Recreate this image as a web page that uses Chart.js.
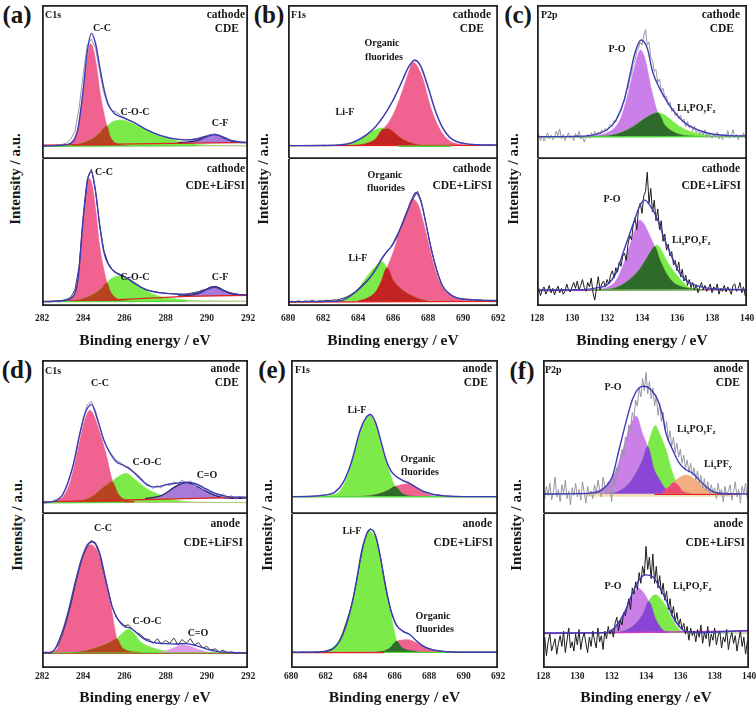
<!DOCTYPE html>
<html><head><meta charset="utf-8">
<script src="https://cdn.jsdelivr.net/npm/chart.js@4.4.1/dist/chart.umd.min.js"></script>
<style>
html,body{margin:0;padding:0;background:#fff;}
body{position:relative;width:756px;height:709px;overflow:hidden;font-family:'Liberation Serif','Times New Roman',serif;color:#161616;}
canvas{position:absolute;}
.lb{position:absolute;white-space:nowrap;font-weight:bold;line-height:1;}
.lb sub{font-size:62%;vertical-align:-0.3em;line-height:0;}
</style></head><body>
<script>
// ---------- axis ranges and tick labels ----------
const XR_C1S = [282, 292], XR_F1S = [680, 692], XR_P2P = [128, 140];
const TICKS_C1S = [282, 284, 286, 288, 290, 292];
const TICKS_F1S = [680, 682, 684, 686, 688, 690, 692];
const TICKS_P2P = [128, 130, 132, 134, 136, 138, 140];
const grid = (start, step, vals) => vals.map((v, i) => [Math.round((start + i * step) * 1000) / 1000, v]);

// ---------- (a) C1s cathode, CDE ----------
const aT_cc  = [[282,8.5],[283,8.8],[283.3,9.8],[283.5,12],[283.7,18],[283.9,33],[284.1,56],[284.25,70],[284.35,75],[284.5,71],[284.65,60],[284.82,43],[285.0,30],[285.15,21.4],[285.3,15],[285.5,11],[285.8,9.2],[286.2,8.6],[292,8.5]];
const aT_coc = [[282,8.5],[283.4,8.7],[284.0,10.5],[284.5,13.5],[284.85,17.5],[285.15,21.4],[285.45,24.3],[285.75,25.3],[286.05,24.8],[286.4,23],[286.8,20.5],[287.2,18],[287.6,15.6],[288.0,13.8],[288.5,12],[289.0,10.6],[289.5,9.6],[290.0,9],[292,8.6]];
const aT_ov  = [[283.4,8.7],[284.0,10.5],[284.5,13.5],[284.85,17.5],[285.15,21.4],[285.3,15],[285.5,11],[285.8,9.2],[286.2,8.6]];
const aT_cf  = [[288.6,10.6],[289.2,11.3],[289.6,12.3],[289.9,14],[290.15,15.5],[290.35,16],[290.6,15.3],[290.85,13.5],[291.2,11.6],[291.6,10.8],[292,10.6]];
const aT_env = [[282,8.4],[282.5,8.5],[283,8.9],[283.5,11.3],[283.75,20],[284.0,45],[284.2,70],[284.4,81.6],[284.6,75],[284.8,60],[285.0,46],[285.2,36],[285.5,29.7],[285.8,27.5],[286.0,26.4],[286.5,23.5],[287.0,19.5],[287.5,16.5],[288.0,14.2],[288.5,12.9],[289.0,12.4],[289.5,13],[290.0,14.8],[290.4,15.8],[290.8,14.2],[291.2,12],[291.6,11],[292,10.7]];
const aT_red = [[282,9],[292,10.8]];
const aT_grn = [[282,8.2],[289.5,8.6]];
const aT_data = grid(282, 0.2, [
  8.2,8.6,8.3,8.7,8.9, 9.5,10.5,13,18,33, 55,74,78,72,57, 43,35,31.5,30.5,28.5,
  27,25.6,24.3,22.8,21, 19.6,18.3,17,16,15.2, 14.6,13.8,13.2,12.9,12.5, 12.3,12.6,13,13.6,14.5,
  15,15.8,16.2,15.5,14.4, 13,12,11.5,11,10.9, 10.8]);

// ---------- (a) C1s cathode, CDE+LiFSI ----------
const aB_cc  = [[282,3.2],[283,3.6],[283.4,5],[283.6,9],[283.8,25],[284.0,57],[284.15,80],[284.3,86.8],[284.45,81],[284.6,66],[284.8,41],[285.0,25],[285.15,15.9],[285.3,10.5],[285.5,6.5],[285.8,4],[286.2,3.3],[292,3.2]];
const aB_coc = [[282,3.2],[283.5,3.5],[284.0,5],[284.5,8],[284.9,12],[285.15,15.9],[285.4,19],[285.7,20.4],[286.0,20],[286.3,18],[286.6,15],[287.0,11],[287.4,8],[287.8,6.2],[288.2,5.2],[288.8,4.2],[289.5,3.6],[292,3.3]];
const aB_ov  = [[283.5,3.5],[284.0,5],[284.5,8],[284.9,12],[285.15,15.9],[285.3,10.5],[285.5,6.5],[285.8,4],[286.2,3.3]];
const aB_cf  = [[288.6,6.8],[289.2,7.3],[289.6,8.6],[289.9,10.6],[290.15,12.6],[290.35,13.2],[290.6,12.4],[290.85,10.4],[291.2,8.2],[291.6,7.4],[292,7.2]];
const aB_env = [[282,2.9],[282.5,3.1],[283,3.6],[283.5,6.3],[283.75,18],[284.0,60],[284.2,85],[284.4,91.4],[284.6,78],[284.8,55],[285.0,37],[285.2,29],[285.5,23.4],[285.8,21],[286.0,20],[286.5,15.4],[287.0,11.3],[287.5,9.5],[288.0,8.6],[288.5,8.2],[289.0,7.9],[289.5,8.8],[290.0,11.3],[290.4,12.7],[290.8,10.4],[291.2,8.6],[291.6,7.7],[292,7.5]];
const aB_red = [[282,3],[286,4.5],[289,6.5],[292,7.3]];
const aB_grn = [[282,3],[289,3.2]];
const aB_data = grid(282, 0.2, [
  2.8,3.2,2.9,3.3,3.4, 3.8,4.6,6,11,27, 60,86,93,78,55, 38,29.5,25,22.8,21.5,
  20.3,18.5,16.5,14.8,12.8, 11.6,10.6,9.8,9.3,9, 8.7,8.5,8.2,8.1,8, 8.1,8.6,9.2,9.8,10.8,
  11.6,12.6,13.4,12.4,10.8, 9.6,8.8,8.2,7.8,7.6, 7.6]);

// ---------- (b) F1s cathode, CDE ----------
const bT_org = [[680,8.7],[683.5,8.8],[684.0,9.1],[684.5,10.2],[685.0,13],[685.45,19.5],[685.8,24.5],[686.14,32],[686.5,43],[686.8,53],[687.15,62.8],[687.5,58],[687.8,48.5],[688.06,37],[688.4,26],[688.8,17],[689.2,12],[689.6,10],[690.2,9],[692,8.7]];
const bT_lif = [[680,8.7],[682.8,8.8],[683.2,9.3],[683.6,10.5],[684.0,12.5],[684.4,15],[684.8,17.8],[685.1,19.5],[685.4,20.2],[685.7,19.6],[686.0,17.8],[686.4,14],[686.8,11.3],[687.2,9.8],[687.6,9],[692,8.7]];
const bT_ov  = [[683.5,8.8],[684.0,9.1],[684.5,10.2],[685.0,13],[685.45,19.5],[685.7,19.6],[686.0,17.8],[686.4,14],[686.8,11.3],[687.2,9.8],[687.6,9]];
const bT_env = [[680,8.7],[682,8.8],[683,9.2],[683.5,10],[684,12.3],[684.5,15.8],[685,21],[685.5,28.5],[686.0,38],[686.5,50],[686.9,60],[687.25,64.3],[687.6,60],[688.0,47],[688.4,32],[688.8,21],[689.2,14.5],[689.6,11.5],[690.2,9.8],[691,9.2],[692,9]];
const bT_red = [[680,8.7],[692,8.9]];
const bT_grn = [[686.3,8.3],[689.3,8.3]];
const bT_data = grid(680, 0.2, [
  8.6,8.9,8.5,8.8,8.6, 8.9,8.7,8.5,8.9,8.7, 9.0,8.8,9.1,9.0,9.3, 9.4,9.7,10.2,10.6,11.6,
  12.5,13.8,15.3,16.8,18.8, 21,23.5,26.5,30.5,34.5, 38.5,43,48,53,58, 62,64,63,59.5,53,
  46,39,32,26,21, 17.5,15,13,11.8,10.8, 10.2,9.9,9.5,9.6,9.3, 9.4,9.1,9.3,9.0,9.1, 9.0]);

// ---------- (b) F1s cathode, CDE+LiFSI ----------
const bB_org = [[680,2.9],[684,3.5],[684.5,5.2],[685.0,9.5],[685.3,16],[685.66,26],[686.05,37.9],[686.5,56],[686.8,65],[687.1,72.8],[687.45,68.5],[687.75,56],[688.0,44],[688.3,29],[688.6,18],[689.0,10],[689.5,5.7],[690,4.1],[691,3.2],[692,2.9]];
const bB_lif = [[680,2.9],[682.5,3.2],[683.0,4],[683.5,6.5],[684.0,11],[684.3,16.5],[684.7,23],[685.0,27],[685.37,30.2],[685.66,26],[686.0,17.7],[686.5,11.3],[687.0,7.5],[687.5,4.8],[688,3.4],[692,2.9]];
const bB_ov  = [[684,3.5],[684.5,5.2],[685.0,9.5],[685.3,16],[685.66,26],[686.0,17.7],[686.5,11.3],[687.0,7.5],[687.5,4.8],[688,3.4]];
const bB_env = [[680,2.9],[682,3.1],[683,3.6],[683.5,6.3],[684.0,10.9],[684.5,16.6],[685.0,24.5],[685.3,31.3],[685.6,36.3],[685.9,40.4],[686.2,47.2],[686.5,55],[686.8,64],[687.0,70],[687.3,77],[687.6,71],[687.9,55],[688.2,38],[688.5,24.5],[688.8,14.3],[689.2,8.6],[689.6,5.7],[690,4.8],[691,4],[692,3.6]];
const bB_red = [[680,2.7],[692,3.2]];
const bB_data = grid(680, 0.2, [
  2.5,3.3,2.8,3.5,2.9, 3.4,3.1,3.8,3.0,3.5, 3.3,3.9,3.6,4.2,4.0, 4.8,5.5,6.5,7.8,9.5,
  11.5,14,16,18.5,21.5, 25,28.5,32.5,36,39, 42,46,52,58,64, 70,74,78,72,61,
  49,38,28,20.5,14.5, 10.5,8.2,6.8,5.8,5.2, 4.6,4.5,4.0,4.3,3.8, 4.1,3.7,3.9,3.5,3.8, 3.6]);

// ---------- (c) P2p cathode, CDE ----------
const cT_po  = [[128,14.5],[130.5,14.6],[131,14.8],[131.5,15.5],[132,17],[132.5,21],[132.8,27],[133.1,38],[133.4,52],[133.7,65],[133.9,70.8],[134.2,64],[134.5,47],[134.9,30],[135.3,22],[135.8,17.5],[136.3,15.5],[137,14.8],[140,14.5]];
const cT_lix = [[128,14.5],[131,14.5],[131.5,14.7],[132,15],[132.5,16],[133,18],[133.5,21],[134,25],[134.5,28.5],[134.9,30],[135.3,28.5],[135.7,25],[136.1,21.5],[136.5,19],[137,17],[137.5,15.8],[138,15],[138.5,14.7],[140,14.5]];
const cT_ov  = [[131,14.5],[131.5,14.7],[132,15],[132.5,16],[133,18],[133.5,21],[134,25],[134.5,28.5],[134.9,30],[135.3,22],[135.8,17.5],[136.3,15.5],[137,14.8]];
const cT_env = [[128,14.5],[130,14.7],[131,15.2],[131.5,16.5],[132,19],[132.5,25],[133.0,39],[133.3,54],[133.6,69],[133.95,77.3],[134.3,72],[134.6,57],[135.0,46],[135.5,36],[136.0,28.5],[136.5,23],[137,19.9],[137.5,17.7],[138,16.2],[139,15.2],[140,15]];
const cT_grn = [[128,14.3],[140,14.6]];
const cT_data = grid(128, 0.1, [
  13,16,12,15,11.5,14,17,13,15.5,12.5,
  14,18,15,19.5,13,16,12,14.5,17,13.5,
  15,12,16.5,14,18,13,15,11,14.5,16,
  13.5,17,15,18,14.5,17.5,16,19,17.5,20,
  18.5,21,22.5,21,25,24,28,30,31,36,
  38,44,46,52,55,62,64,70,72,76,
  74,80,84,74,76,66,64,57,58,50,
  52,44,46,40,41,35,37,31,33,28,
  30,26,28.5,24,26,21,24.5,20,22,18,
  21.5,17,19.5,16,18,15.5,19,14,17,15,
  13.5,16.5,14,17.5,13,15,12.5,16,14,18.5,
  13.5,15,19,14,16,12.5,15.5,14,17,13.5,
  15]);

// ---------- (c) P2p cathode, CDE+LiFSI ----------
const cB_po  = [[128,10.9],[131,11],[131.6,11.5],[132.0,12.8],[132.5,17],[132.9,27],[133.3,41],[133.6,52],[133.86,58.5],[134.1,56],[134.4,49],[134.72,40.4],[135.0,32],[135.4,22],[135.8,16],[136.3,13],[137,11.5],[140,10.9]];
const cB_lix = [[128,10.9],[131.5,11],[132.2,11.5],[132.8,14],[133.3,18],[133.8,24],[134.2,31],[134.5,37],[134.85,41.5],[135.1,38],[135.5,29],[136.06,20],[136.64,13],[137.2,11.4],[138,11],[140,10.9]];
const cB_ov  = [[131.5,11],[132.2,11.5],[132.8,14],[133.3,18],[133.8,24],[134.2,31],[134.5,37],[134.72,40.4],[135.0,32],[135.4,22],[135.8,16],[136.3,13],[137,11.5]];
const cB_env = [[128,10.9],[130,11],[131,11.5],[131.5,12.5],[132,14.3],[132.5,22],[133,39],[133.5,56],[133.9,68.7],[134.15,72],[134.5,67.6],[134.9,58.5],[135.3,44.9],[135.7,33.6],[136.1,23.4],[136.5,17.7],[137,14.3],[137.5,12.7],[138,11.8],[139,11.3],[140,11.1]];
const cB_mag = [[128,10.5],[140,11.2]];
const cB_grn = [[131,10.8],[137.5,11]];
const cB_data = grid(128, 0.1, [
  9,12,7,11,13,8,10.5,14,9,12,
  7.5,11,13.5,9,12,8,10,15,11,9.5,
  13,16,12,17,11,14,18,12.5,10,16,
  13,19,9,4,12,20,11,15,17,13,
  18,15,21,24,19,26,23,30,27,34,
  36,31,42,48,45,55,60,52,66,70,
  63,75,78,91,70,80,64,72,58,66,
  52,58,44,49,38,42,34,37,28,31,
  24,30,20,25,17,21,14,18,12.5,16,
  11,14.5,9,13,16,11,14,10,12,15,
  9,13,11,15,8,12,10,14,9.5,13,
  11,8,14,15,10,12,16,9,13,7,
  11]);

// ---------- (d) C1s anode, CDE ----------
const dT_cc  = [[282,7.4],[282.4,7.8],[282.7,8.5],[283.0,11],[283.35,20],[283.6,33],[283.84,48],[284.1,62],[284.33,67.4],[284.55,63],[284.81,52.6],[285.14,37.4],[285.3,27.5],[285.45,20.5],[285.7,13],[286.0,9.5],[286.5,8],[292,7.4]];
const dT_coc = [[282,7.4],[283.3,7.6],[284.0,9],[284.5,11.8],[284.81,15.6],[285.1,18.5],[285.38,21],[285.7,24.2],[286.08,26.5],[286.5,22.5],[286.93,17.8],[287.3,14.8],[287.58,13.2],[287.9,11.3],[288.3,9.5],[288.8,8.3],[289.5,7.7],[292,7.4]];
const dT_ov  = [[283.3,7.6],[284.0,9],[284.5,11.8],[284.81,15.6],[285.1,18.5],[285.38,21],[285.45,20.5],[285.7,13],[286.0,9.5],[286.5,8]];
const dT_co  = [[287.0,10],[287.5,11],[287.74,11.7],[288.0,13.5],[288.23,15.6],[288.6,18.8],[289.04,20.4],[289.4,19],[289.7,16.7],[290.0,14.5],[290.34,12.4],[290.7,11],[291.0,10.4],[291.5,10.2],[292,10.2]];
const dT_env = [[282,7.4],[282.5,8],[283,12.5],[283.5,31],[283.8,50],[284.1,65.6],[284.4,71],[284.7,61],[285,48],[285.3,39.6],[285.6,34],[285.9,32],[286.2,29.8],[286.5,26.5],[286.8,22.6],[287.1,18.9],[287.4,17.6],[287.7,17.8],[288,18.9],[288.5,20],[289,20.6],[289.5,19.6],[290,16],[290.5,13],[291,11.3],[291.5,10.9],[292,10.7]];
const dT_red = [[282,7.8],[292,11]];
const dT_grn = [[282,7.2],[286,7.6]];
const dT_data = grid(282, 0.2, [
  7,8.5,7.5,9,10, 12.5,18,26,36,50, 62,71,73,67,57, 48,42,38.5,35,33.5,
  31,30.5,28,26,23.5, 20,19,16.5,18.5,17, 19.5,18.5,21,19.5,22, 20,21.5,18.5,19,16,
  16.5,14,13.5,12,13, 10.5,12,9.5,11.5,10, 11]);

// ---------- (d) C1s anode, CDE+LiFSI ----------
const dB_cc  = [[282,9.7],[282.4,10.5],[282.7,12],[283.02,22.7],[283.35,40],[283.67,57],[284.0,72],[284.2,78.5],[284.36,80],[284.55,78.5],[284.81,72],[285.14,53],[285.38,37.8],[285.5,28],[285.63,19],[285.87,13.5],[286.2,11],[286.8,10],[292,9.7]];
const dB_coc = [[282,9.7],[283.5,10.1],[284.0,10.8],[284.81,14],[285.3,16.5],[285.63,19],[285.9,22.5],[286.2,25.3],[286.5,22],[286.76,17.3],[287.1,14.5],[287.41,13],[287.8,11.5],[288.07,10.8],[288.6,10.1],[292,9.7]];
const dB_ov  = [[283.5,10.1],[284.0,10.8],[284.81,14],[285.3,16.5],[285.63,19],[285.87,13.5],[286.2,11],[286.8,10]];
const dB_co  = [[287.6,10],[288.0,11],[288.4,13.2],[288.8,15],[289.2,14.2],[289.6,12],[290.0,10.5],[290.4,9.9]];
const dB_env = [[282,9.7],[282.5,10.5],[283,24],[283.3,38],[283.6,55],[283.9,70],[284.2,80],[284.5,82],[284.8,74.5],[285.1,57],[285.4,40],[285.7,31.3],[286.0,27],[286.3,25.9],[286.6,22.7],[286.9,19.4],[287.2,17.3],[287.6,16.2],[288,15.8],[288.5,15.6],[289,15.8],[289.5,14.5],[290,12.3],[290.5,10.8],[291,10.2],[292,9.7]];
const dB_red = [[282,9.4],[292,9.4]];
const dB_grn = [[282,9.8],[292,9.8]];
const dB_data = grid(282, 0.2, [
  9,10.5,9.5,12,15, 22,31,41,53,64, 73,79,83,80,74, 62,51,40,33,30,
  27.5,28,25,23,21.5, 19,18.5,16,19,15.5, 18,16,19.5,15,18.5, 16,19,15,16.5,13,
  14,11.5,12.5,10.5,11.5, 9.8,10.5,9.5,10.2,9.6, 10]);

// ---------- (e) F1s anode, CDE ----------
const eT_lif = [[680,11.3],[681.5,11.5],[682.2,12],[682.8,14.6],[683.19,22],[683.58,35],[683.97,52.6],[684.25,60.5],[684.52,63.9],[684.8,60],[685.05,52.6],[685.34,39.6],[685.74,26.5],[686.03,17.8],[686.4,13.8],[686.7,12],[687.2,11.5],[692,11.3]];
const eT_org = [[680,11.3],[684.2,11.5],[684.76,12.2],[685.34,13.9],[685.7,15.8],[686.03,17.8],[686.4,19],[686.81,19.6],[687.3,16.7],[687.9,13],[688.5,11.5],[692,11.3]];
const eT_ov  = [[684.2,11.5],[684.76,12.2],[685.34,13.9],[685.7,15.8],[686.03,17.8],[686.4,13.8],[686.7,12],[687.2,11.5]];
const eT_env = [[680,11.3],[681,11.4],[682,12.4],[682.5,13.9],[683,20],[683.5,33.5],[684,54],[684.3,61.8],[684.6,64.6],[684.9,59.5],[685.2,48],[685.5,35.5],[685.8,27.8],[686.1,24.3],[686.5,21.7],[686.9,19.8],[687.3,17],[687.7,14.6],[688.2,12.8],[689,11.7],[690,11.3],[692,11.3]];
const eT_grn = [[680,11.2],[692,11.2]];
const eT_data = grid(680, 0.2, [
  11.2,11.5,11.2,11.4,11.3, 11.6,11.4,11.7,11.8,12.1, 12.4,12.8,13.4,14.5,16.3, 19.8,24.5,30.5,37.5,45.5,
  53.5,59.5,63,64.5,61.5, 55.5,47.5,39,32,28, 25.5,23.6,22.3,21.3,20.4, 19.3,17.8,16.3,15,14.1,
  13.4,12.9,12.5,12.1,11.9, 11.7,11.6,11.4,11.5,11.3, 11.4,11.3,11.2,11.4,11.3, 11.2,11.3,11.3,11.2,11.3, 11.3]);

// ---------- (e) F1s anode, CDE+LiFSI ----------
const eB_lif = [[680,10.2],[681.5,10.4],[682.2,11.9],[682.8,18.4],[683.19,29.2],[683.58,44.3],[683.88,61.6],[684.17,78.8],[684.4,87],[684.56,89.2],[684.75,87],[684.95,83],[685.25,66],[685.64,44.3],[685.93,27],[686.13,17.3],[686.4,13.5],[686.8,11.5],[687.3,10.8],[692,10.2]];
const eB_org = [[680,10.2],[685,10.4],[685.34,10.8],[685.74,13],[686.13,17.3],[686.45,18.2],[686.81,18.4],[687.15,17],[687.5,15.1],[688.1,11.9],[688.6,10.4],[692,10.2]];
const eB_ov  = [[685,10.4],[685.34,10.8],[685.74,13],[686.13,17.3],[686.4,13.5],[686.8,11.5],[687.3,10.8]];
const eB_env = [[680,10.2],[681,10.2],[682,10.8],[682.5,13],[683,21.6],[683.5,40],[683.8,57],[684.1,76],[684.4,87.5],[684.6,90],[684.9,86],[685.2,71],[685.5,52],[685.8,37],[686.1,28],[686.5,23.8],[686.9,21.6],[687.3,17.3],[687.7,14],[688.2,11.9],[689,10.6],[690,10.2],[692,10.2]];
const eB_red = [[680,10],[685.4,10]];
const eB_grn = [[685.4,10.2],[692,10.2]];
const eB_data = grid(680, 0.2, [
  10.1,10.3,10.0,10.4,10.2, 10.3,10.1,10.5,10.4,10.7, 11.0,11.6,12.4,14.2,17.3, 22.5,29.5,36.5,45,56,
  69,80,87.5,90.5,89, 82,71,58,46,37, 30.5,26.5,24.5,23.3,22.3, 20.8,18.6,16.4,14.6,13.3,
  12.4,11.8,11.3,11.0,10.8, 10.6,10.5,10.4,10.3,10.3, 10.2,10.3,10.2,10.2,10.3, 10.2,10.2,10.3,10.2,10.2, 10.2]);

// ---------- (f) P2p anode, CDE ----------
const fT_po   = [[128,13],[130,13.1],[130.5,13.4],[131.26,15.6],[131.84,20],[132.33,30.9],[132.82,48],[133.1,58],[133.44,63.5],[133.8,52],[134.09,43.9],[134.48,28.7],[134.97,17.8],[135.55,13.9],[136.2,13.2],[140,13]];
const fT_lix  = [[128,13],[131.5,13.1],[132,13.4],[132.62,16],[133.2,22.6],[133.8,35.2],[134.09,43.9],[134.3,52],[134.54,57.4],[134.8,52],[135.16,41.7],[135.55,26.5],[135.85,19],[136.14,14.6],[136.6,13.3],[140,13]];
const fT_ov   = [[131.5,13.1],[132,13.4],[132.62,16],[133.2,22.6],[133.8,35.2],[134.09,43.9],[134.48,28.7],[134.77,22.6],[135.16,16],[135.55,13.4],[136.2,13.1]];
const fT_lipf = [[133.5,13],[134.3,13.3],[134.97,14.6],[135.36,17.8],[135.75,22],[136.33,25.4],[136.92,22],[137.5,16.7],[138.1,13.4],[138.8,13]];
const fT_ov2  = [[134.97,14.6],[135.36,17.8],[135.6,20.5],[135.85,19],[136.14,14.6],[136.6,13.3]];
const fT_env  = [[128,13],[130,13.2],[131.0,13.9],[131.26,14.6],[131.65,17.8],[132.04,24.3],[132.43,41.7],[132.82,59],[133.21,74.3],[133.6,82],[133.89,83],[134.28,80.9],[134.67,74.3],[134.97,63.5],[135.16,52.6],[135.55,41.7],[135.94,33],[136.33,28.7],[136.72,26.5],[137.1,22],[137.5,17.8],[137.9,14.6],[138.28,13.5],[140,13]];
const fT_beige = [[130.5,12.2],[139,12.2]];
const fT_red  = [[134.5,12.8],[139.5,12.8]];
const fT_data = grid(128, 0.1, [
  15,10,18,12,20,9,14,24,11,16,
  8,19,13,22,10,15,6,17,12,20,
  11,16,9,21,14,7,18,12,15,10,
  19,13,22,16,11,24,18,14,21,17,
  8,25,19,30,27,36,42,38,50,47,
  58,55,66,62,74,70,82,76,88,80,
  92,78,86,75,82,70,77,64,72,60,
  66,55,60,48,54,44,50,40,46,37,
  42,33,38,30,35,27,33,25,30,22,
  28,20,25,17,23,15,21,12,19,14,
  17,10,20,13,16,8,18,12,15,19,
  9,14,21,11,16,7,18,13,20,10,
  14]);

// ---------- (f) P2p anode, CDE+LiFSI ----------
const fB_po  = [[128,22.7],[131,22.8],[131.65,23],[132.23,26.6],[132.62,33.5],[133.01,42],[133.3,48.5],[133.56,51.8],[133.85,49],[134.15,43.2],[134.58,31.3],[134.97,24.8],[135.36,23],[140,22.7]];
const fB_lix = [[128,22.7],[132.04,22.7],[132.62,23.8],[133.21,27],[133.6,31.3],[133.9,37],[134.15,43.2],[134.35,46.5],[134.58,47.5],[134.85,45],[135.16,40],[135.55,31.3],[135.94,24.8],[136.33,23],[140,22.7]];
const fB_ov  = [[132.04,22.7],[132.62,23.8],[133.21,27],[133.6,31.3],[133.9,37],[134.15,43.2],[134.58,31.3],[134.97,24.8],[135.36,23]];
const fB_env = [[128,22.7],[131.65,23],[132.23,27],[132.82,37.8],[133.21,48.6],[133.6,57.2],[133.99,60.5],[134.38,59.4],[134.77,52.9],[135.16,44.3],[135.55,33.5],[135.94,27],[136.33,23.8],[137.1,23.1],[140,24.4]];
const fB_mag = [[128,22.4],[140,24]];
const fB_data = grid(128, 0.1, [
  12,20,8,17,22,11,15,19,9,16,
  21,14,24,10,18,26,13,17,11,22,
  15,25,12,19,23,16,10,20,14,24,
  18,13,26,17,21,12,24,19,27,22,
  25,20,29,33,24,31,28,36,34,40,
  45,38,52,48,56,51,62,55,66,60,
  79,64,72,58,74,55,66,52,60,48,
  55,44,50,38,45,34,40,30,36,27,
  32,25,29,22,27,18,26,21,24,17,
  25,20,28,16,23,19,27,14,22,18,
  26,15,21,24,13,20,17,25,12,19,
  23,16,21,11,18,24,14,20,9,17,
  21]);

// ---------- styles ----------
const COL = {pink:'#F0628F', green:'#7CEB4A', brown:'#B4451F', red:'#C42323', violet:'#CB7FE8',
  dkgreen:'#2E6B2B', purple:'#8A45D6', cpurple:'#A77ADA', lilac:'#DE9CE8', orange:'#F2AE7E',
  rose:'#EC4A72', env:'#3C3CB6', gray:'#9797A3', redline:'#E02222', greenline:'#55D43A',
  magenta:'#D23CC6', beige:'#F3DDB5', navy:'#22226E', black:'#1c1c1c', dkgray:'#3a3a3a'};

// subplot composition: [data, colour, fill base, outline]
const SUB = {
  aT:{peaks:[[aT_cc,'pink',8.5],[aT_coc,'green',8.5],[aT_cf,'cpurple',10.3,'navy']], ov:[[aT_ov,'brown',8.5]], base:[[aT_red,'redline',1.3],[aT_grn,'greenline',1.2]], env:aT_env, data:aT_data, dc:'gray'},
  aB:{peaks:[[aB_cc,'pink',3.2],[aB_coc,'green',3.2],[aB_cf,'cpurple',6.8,'navy']], ov:[[aB_ov,'brown',3.2]], base:[[aB_red,'redline',1.3],[aB_grn,'greenline',1.2]], env:aB_env, data:aB_data, dc:'dkgray'},
  bT:{peaks:[[bT_org,'pink',8.7],[bT_lif,'green',8.7]], ov:[[bT_ov,'red',8.7]], base:[[bT_red,'redline',1.3],[bT_grn,'greenline',1.5]], env:bT_env, data:bT_data, dc:'gray'},
  bB:{peaks:[[bB_org,'pink',2.9],[bB_lif,'green',2.9]], ov:[[bB_ov,'red',2.9]], base:[[bB_red,'redline',1.3]], env:bB_env, data:bB_data, dc:'dkgray'},
  cT:{peaks:[[cT_po,'violet',14.5],[cT_lix,'green',14.5]], ov:[[cT_ov,'dkgreen',14.5]], base:[[cT_grn,'greenline',1.5]], env:cT_env, data:cT_data, dc:'gray'},
  cB:{peaks:[[cB_po,'violet',10.9],[cB_lix,'green',10.9]], ov:[[cB_ov,'dkgreen',10.9]], base:[[cB_mag,'magenta',1.3],[cB_grn,'greenline',1.2]], env:cB_env, data:cB_data, dc:'black'},
  dT:{peaks:[[dT_cc,'pink',7.4],[dT_coc,'green',7.4],[dT_co,'cpurple',10,'navy']], ov:[[dT_ov,'brown',7.4]], base:[[dT_red,'redline',1.3],[dT_grn,'greenline',1.2]], env:dT_env, data:dT_data, dc:'gray'},
  dB:{peaks:[[dB_cc,'pink',9.7],[dB_coc,'green',9.7],[dB_co,'lilac',9.7]], ov:[[dB_ov,'brown',9.7]], base:[[dB_red,'redline',1.2],[dB_grn,'greenline',1]], env:dB_env, data:dB_data, dc:'dkgray'},
  eT:{peaks:[[eT_lif,'green',11.3],[eT_org,'pink',11.3]], ov:[[eT_ov,'dkgreen',11.3]], base:[[eT_grn,'greenline',1.3]], env:eT_env, data:eT_data, dc:'gray'},
  eB:{peaks:[[eB_lif,'green',10.2],[eB_org,'pink',10.2]], ov:[[eB_ov,'dkgreen',10.2]], base:[[eB_red,'redline',1.3],[eB_grn,'greenline',1.3]], env:eB_env, data:eB_data, dc:'dkgray'},
  fT:{peaks:[[fT_po,'violet',13],[fT_lix,'green',13],[fT_lipf,'orange',13]], ov:[[fT_ov,'purple',13],[fT_ov2,'rose',13]], base:[[fT_beige,'beige',3],[fT_red,'redline',1.2]], env:fT_env, data:fT_data, dc:'gray'},
  fB:{peaks:[[fB_po,'violet',22.7],[fB_lix,'green',22.7]], ov:[[fB_ov,'purple',22.7]], base:[[fB_mag,'magenta',1.6]], env:fB_env, data:fB_data, dc:'black'}
};

const PANELS = [
  {k:'a', L:42,  R:248, T:5,   M:159, B:306, axisH:46, pad:7, xr:XR_C1S, ticks:TICKS_C1S},
  {k:'b', L:288, R:498, T:5,   M:159, B:306, axisH:46, pad:7, xr:XR_F1S, ticks:TICKS_F1S},
  {k:'c', L:537, R:747, T:5,   M:159, B:306, axisH:46, pad:7, xr:XR_P2P, ticks:TICKS_P2P},
  {k:'d', L:42,  R:248, T:360, M:514, B:668, axisH:41, pad:3, xr:XR_C1S, ticks:TICKS_C1S},
  {k:'e', L:291, R:498, T:360, M:514, B:668, axisH:41, pad:3, xr:XR_F1S, ticks:TICKS_F1S},
  {k:'f', L:543, R:749, T:360, M:514, B:668, axisH:41, pad:3, xr:XR_P2P, ticks:TICKS_P2P}
];

const FONT = "'Liberation Serif','Times New Roman',serif";
const xy = arr => arr.map(p => ({x:p[0], y:p[1]}));

function datasets(s) {
  const out = [];
  s.peaks.forEach((p, i) => out.push({data:xy(p[0]), backgroundColor:COL[p[1]], borderColor:p[3] ? COL[p[3]] : COL[p[1]],
    borderWidth:p[3] ? 1.3 : 0.6, fill:{value:p[2]}, pointRadius:0, cubicInterpolationMode:'monotone', order:40 - i}));
  s.ov.forEach((p, i) => out.push({data:xy(p[0]), backgroundColor:COL[p[1]], borderColor:COL[p[1]], borderWidth:0.6,
    fill:{value:p[2]}, pointRadius:0, cubicInterpolationMode:'monotone', order:20 - i}));
  s.base.forEach((p, i) => out.push({data:xy(p[0]), borderColor:COL[p[1]], borderWidth:p[2], fill:false, pointRadius:0, order:10 - i}));
  out.push({data:xy(s.data), borderColor:COL[s.dc], borderWidth:1, fill:false, pointRadius:0, tension:0, order:3});
  out.push({data:xy(s.env), borderColor:COL.env, borderWidth:1.4, fill:false, pointRadius:0, cubicInterpolationMode:'monotone', order:1});
  return out;
}

const boxPlugin = {
  id:'box',
  afterDraw(chart, args, opts) {
    const {ctx, chartArea:a} = chart;
    ctx.save();
    ctx.strokeStyle = '#222';
    ctx.lineWidth = 1.8;
    ctx.beginPath();
    const l = a.left + 0.9, r = a.right - 0.9, t = a.top + 0.9, b = a.bottom - 0.9;
    if (opts.top) { ctx.moveTo(l, b); ctx.lineTo(l, t); ctx.lineTo(r, t); ctx.lineTo(r, b); ctx.lineTo(l, b); }
    else { ctx.moveTo(l, a.top); ctx.lineTo(l, b); ctx.lineTo(r, b); ctx.lineTo(r, a.top); }
    ctx.stroke();
    ctx.restore();
  }
};

function makeChart(P, spec, bottom) {
  const cv = document.createElement('canvas');
  const padX = bottom ? 16 : 0;
  const w = (P.R - P.L) + 2 * padX;
  const h = bottom ? (P.B - P.M) + P.axisH : (P.M - P.T);
  cv.width = w; cv.height = h;
  cv.style.left = (P.L - padX) + 'px';
  cv.style.top = (bottom ? P.M : P.T) + 'px';
  cv.style.width = w + 'px'; cv.style.height = h + 'px';
  document.body.appendChild(cv);
  const xScale = {type:'linear', min:P.xr[0], max:P.xr[1], display:bottom,
    grid:{display:false, drawTicks:false}, border:{display:false},
    afterBuildTicks:ax => { ax.ticks = P.ticks.map(v => ({value:v})); },
    ticks:{padding:P.pad, color:'#1e1e1e', font:{family:FONT, size:9.5, weight:'bold'}, maxRotation:0, autoSkip:false, callback:v => String(v)},
    title:{display:true, text:'Binding energy / eV', color:'#161616', font:{family:FONT, size:15.5, weight:'bold'}, padding:{top:0, bottom:2}}};
  if (bottom) xScale.afterFit = ax => { ax.height = P.axisH; };
  new Chart(cv, {
    type:'line',
    data:{datasets:datasets(spec)},
    options:{
      responsive:false, animation:false, devicePixelRatio:1, events:[],
      layout:{padding:{left:padX, right:padX, top:0, bottom:0}},
      plugins:{legend:{display:false}, tooltip:{enabled:false}, box:{top:!bottom}},
      scales:{x:xScale, y:{min:0, max:100, display:false}}
    },
    plugins:[boxPlugin]
  });
}

PANELS.forEach(P => {
  makeChart(P, SUB[P.k + 'T'], false);
  makeChart(P, SUB[P.k + 'B'], true);
});

// ---------- text labels: [html, x, y, align, size] ----------
const LIX = 'Li<sub>x</sub>PO<sub>y</sub>F<sub>z</sub>';
const LABELS = [
  ['(a)',17,14,'c',25],['(b)',269,14,'c',25],['(c)',518,14,'c',25],['(d)',17,369,'c',25],['(e)',272,369,'c',25],['(f)',522,370,'c',25],
  ['Intensity / a.u.',15,179,'v',15],['Intensity / a.u.',263,179,'v',15],['Intensity / a.u.',513,179,'v',15],
  ['Intensity / a.u.',17,525,'v',15],['Intensity / a.u.',267,525,'v',15],['Intensity / a.u.',516,525,'v',15],
  // (a)
  ['C1s',45,15,'l',10],['cathode',245,15,'r',11.5],['CDE',239,29,'r',11.5],['C-C',102,28,'c',10],['C-O-C',135,112,'c',10],['C-F',220,123,'c',10],
  ['cathode',245,169,'r',11.5],['CDE+LiFSI',245,186,'r',11.5],['C-C',104,172,'c',10],['C-O-C',135,277,'c',10],['C-F',220,277,'c',10],
  // (b)
  ['F1s',291,15,'l',10],['cathode',491,15,'r',11.5],['CDE',484,29,'r',11.5],['Organic',382,43,'c',10],['fluorides',384,57,'c',10],['Li-F',345,112,'c',10],
  ['cathode',491,169,'r',11.5],['CDE+LiFSI',492,186,'r',11.5],['Organic',385,175,'c',10],['fluorides',386,188,'c',10],['Li-F',358,258,'c',10],
  // (c)
  ['P2p',541,15,'l',10],['cathode',740,15,'r',11.5],['CDE',734,29,'r',11.5],['P-O',617,49,'c',10],[LIX,677,108,'l',10],
  ['cathode',740,169,'r',11.5],['CDE+LiFSI',741,186,'r',11.5],['P-O',612,199,'c',10],[LIX,672,240,'l',10],
  // (d)
  ['C1s',45,371,'l',10],['anode',240,369,'r',11.5],['CDE',239,383,'r',11.5],['C-C',100,383,'c',10],['C-O-C',147,462,'c',10],['C=O',207,475,'c',10],
  ['anode',240,524,'r',11.5],['CDE+LiFSI',243,543,'r',11.5],['C-C',103,528,'c',10],['C-O-C',147,621,'c',10],['C=O',198,633,'c',10],
  // (e)
  ['F1s',295,370,'l',10],['anode',492,369,'r',11.5],['CDE',488,383,'r',11.5],['Li-F',357,410,'c',10],['Organic',418,459,'c',10],['fluorides',420,472,'c',10],
  ['anode',492,524,'r',11.5],['CDE+LiFSI',493,543,'r',11.5],['Li-F',352,531,'c',10],['Organic',433,616,'c',10],['fluorides',435,629,'c',10],
  // (f)
  ['P2p',545,370,'l',10],['anode',743,369,'r',11.5],['CDE',740,383,'r',11.5],['P-O',613,387,'c',10],[LIX,677,429,'l',10],['Li<sub>x</sub>PF<sub>y</sub>',704,464,'l',10],
  ['anode',743,524,'r',11.5],['CDE+LiFSI',745,543,'r',11.5],['P-O',613,586,'c',10],[LIX,673,586,'l',10]
];
const TF = {c:'translate(-50%,-50%)', l:'translate(0,-50%)', r:'translate(-100%,-50%)', v:'translate(-50%,-50%) rotate(-90deg)'};
LABELS.forEach(([html, x, y, al, size]) => {
  const d = document.createElement('div');
  d.className = 'lb';
  d.innerHTML = html;
  d.style.left = x + 'px'; d.style.top = y + 'px';
  d.style.fontSize = size + 'px';
  d.style.transform = TF[al];
  document.body.appendChild(d);
});
</script>
</body></html>
